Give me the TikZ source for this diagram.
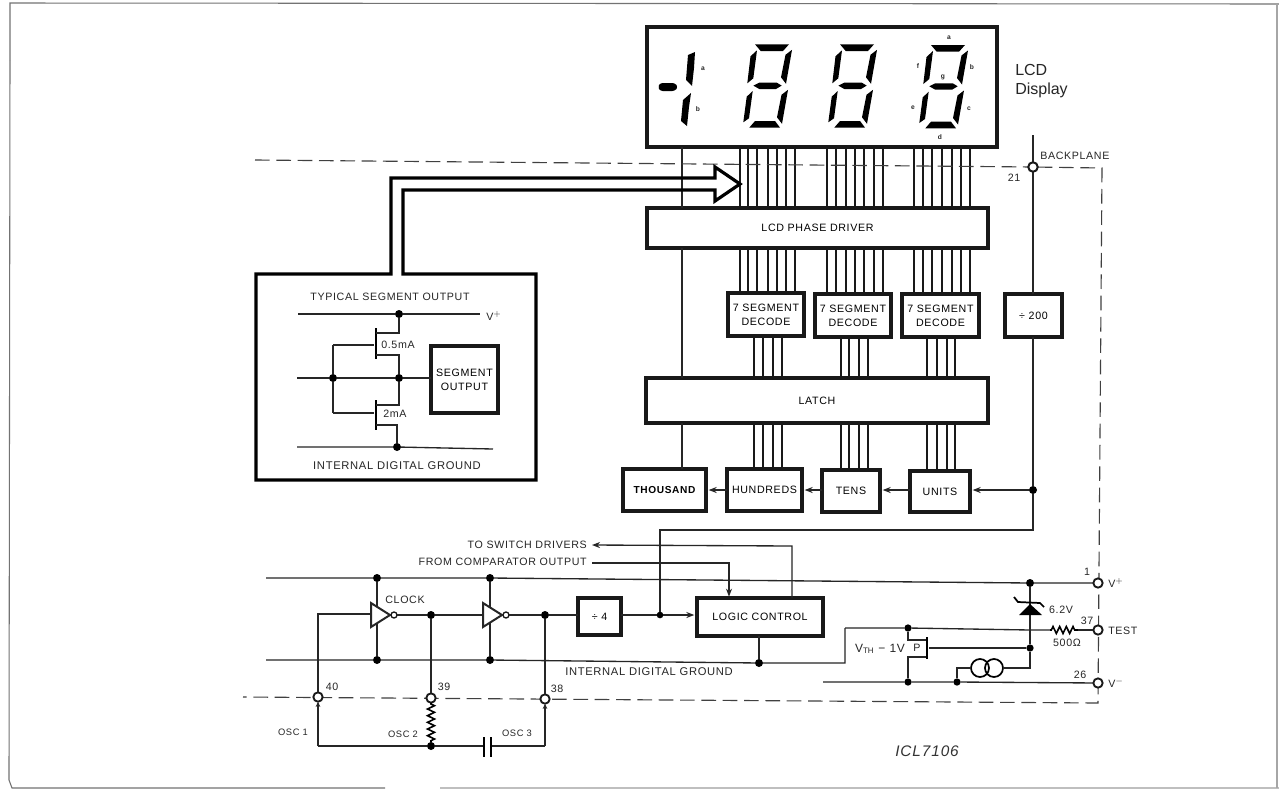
\documentclass[tikz,border=0pt]{standalone}
\usepackage{fontspec}
\setmainfont[LetterSpace=6]{Liberation Sans}
\newfontfamily\plainf{Liberation Sans}
\usetikzlibrary{arrows.meta,decorations.pathmorphing,calc}
\tikzset{
  wire/.style={line width=1pt,black!85},
  heavy/.style={line width=2.4pt,black!90},
  bus/.style={line width=1.05pt,black!90},
  dash line/.style={line width=0.85pt,black!75,dash pattern=on 11pt off 5pt},
  boxs/.style={draw=black!90,line width=2.3pt,fill=white,inner sep=0pt,outer sep=0pt,align=center,font=\fontsize{8}{10.5}\selectfont},
  lbl/.style={inner sep=0pt,font=\fontsize{8}{9}\selectfont,text=black!85},
  tiny/.style={inner sep=0pt,font=\bfseries\fontsize{5}{5}\selectfont,text=black!85},
  dot/.style={circle,fill=black,draw=none,minimum size=6pt,inner sep=0pt,outer sep=0pt},
  pin/.style={circle,fill=white,draw=black!90,line width=1.4pt,minimum size=7pt,inner sep=0pt,outer sep=0pt},
  tip/.style={-{Stealth[length=6pt,width=4.5pt]},shorten >=2pt},
  seg/.style={fill=black,draw=none},
  rzig/.style={decorate,decoration={zigzag,amplitude=2.6pt,segment length=5pt,pre length=1pt,post length=1pt},line width=1.2pt},
  scanline/.style={line width=0.8pt,black!55},
}
\newcommand{\bx}[6]{\node[boxs,minimum width={(#4-#2)*0.75pt},minimum height={(#5-#3)*0.75pt}] (#1) at ({(#2+#4)/2},{(#3+#5)/2}) {#6};}
\newcommand{\dg}[2]{\begin{scope}[shift={(#1,#2)}]
 \fill[seg] (0,0)--(34,0)--(28,6.7)--(5.7,6.7)--cycle;
 \fill[seg] (2,6)--(-4.5,12)--(-7.7,39)--(-1.7,34)--cycle;
 \fill[seg] (37,5.5)--(30.5,10.5)--(26,33)--(31,39.5)--cycle;
 \fill[seg] (-2.3,46.7)--(-8.3,52.4)--(-11.7,78)--(-6,74)--cycle;
 \fill[seg] (33,45.5)--(26.5,50.5)--(22,73)--(27,79.5)--cycle;
 \fill[seg] (-1.7,41.3)--(4.3,38.3)--(21.7,38.3)--(26.7,41.3)--(21,44.7)--(4.3,44.7)--cycle;
 \fill[seg] (0,76.7)--(20,76.7)--(25,83.3)--(-5.7,83.3)--cycle;
\end{scope}}
\begin{document}
\begin{tikzpicture}[x=0.75pt,y=-0.75pt]
\useasboundingbox (0,0) rectangle (1279,790);
\fill[white] (0,0) rectangle (1279,790);
% scanned page frame
\draw[scanline] (10,60) -- (10,3) -- (1279,4);
\draw[scanline] (10,60) -- (9,780) -- (12,788) -- (385,788);
\draw[scanline,black!25] (440,788) -- (1279,788);
\draw[scanline,black!35] (1277,4) -- (1277,788);
% main blocks
\bx{disp}{647}{27}{997}{147}{}
\bx{drv}{647}{208}{988}{248}{LCD PHASE DRIVER}
\bx{dA}{728}{293}{804}{336}{7 SEGMENT\\DECODE}
\bx{dB}{815}{294}{891}{337}{7 SEGMENT\\DECODE}
\bx{dC}{902}{294}{979}{337}{7 SEGMENT\\DECODE}
\bx{d200}{1005}{294}{1062}{337}{÷ 200}
\bx{latch}{646}{378}{988}{423}{LATCH}
\bx{thou}{623}{469}{706}{511}{\bfseries\fontsize{7.6}{9}\selectfont THOUSAND}
\bx{hund}{727}{469}{802}{511}{HUNDREDS}
\bx{tens}{822}{470}{880}{512}{TENS}
\bx{units}{910}{471}{970}{512}{UNITS}
\bx{div4}{578}{598}{621}{635}{÷ 4}
\bx{logic}{697}{598}{823}{636}{LOGIC CONTROL}
% digits
\dg{755}{44.3}\dg{840}{44.3}\dg{931}{45}
\fill[seg] (695,52)--(688,55)--(686,80)--(692,86)--(694,68)--cycle;
\fill[seg] (691,93)--(683,100)--(681,121)--(687,126)--(689,107)--cycle;
\fill[seg,rounded corners=2pt] (660,83)--(675,83)--(678,87)--(675,91)--(660,91)--(658,87)--cycle;
\node[tiny] at (703,69) {a};
\node[tiny] at (698,109) {b};
\node[tiny] at (949,38) {a};
\node[tiny] at (972,67) {b};
\node[tiny] at (969,109) {c};
\node[tiny] at (940,137) {d};
\node[tiny] at (913,108) {e};
\node[tiny] at (918,66) {f};
\node[tiny] at (943,77) {g};
\node[inner sep=0pt,anchor=west,align=left,font=\plainf\fontsize{12}{14}\selectfont,text=black!85] (lcdtxt) at (1015,81) {LCD\\Display};
% segment buses
\foreach \x in {740,748,757,768,777,786,795,827,836,846,855,864,874,883,914,923,932,942,952,961,970}
  \draw[bus] (\x,0 |- disp.south) -- (\x,0 |- drv.north);
\foreach \x in {740,748,757,768,777,786,795}
  \draw[bus] (\x,0 |- drv.south) -- (\x,0 |- dA.north);
\foreach \x in {827,836,846,855,864,874,883}
  \draw[bus] (\x,0 |- drv.south) -- (\x,0 |- dB.north);
\foreach \x in {914,923,932,942,952,961,970}
  \draw[bus] (\x,0 |- drv.south) -- (\x,0 |- dC.north);
\foreach \x in {754,763,773,782}{
  \draw[bus] (\x,0 |- dA.south) -- (\x,0 |- latch.north);
  \draw[bus] (\x,0 |- latch.south) -- (\x,0 |- hund.north);}
\foreach \x in {841,849,859,868}{
  \draw[bus] (\x,0 |- dB.south) -- (\x,0 |- latch.north);
  \draw[bus] (\x,0 |- latch.south) -- (\x,0 |- tens.north);}
\foreach \x in {927,937,947,955}{
  \draw[bus] (\x,0 |- dC.south) -- (\x,0 |- latch.north);
  \draw[bus] (\x,0 |- latch.south) -- (\x,0 |- units.north);}
\draw[wire] (682,0 |- disp.south) -- (682,0 |- drv.north);
\draw[wire] (682,0 |- drv.south) -- (682,0 |- latch.north);
\draw[wire] (682,0 |- latch.south) -- (682,0 |- thou.north);
% counter chain
\node[dot] (jU) at (1033,490) {};
\draw[wire,tip] (jU) -- (units.east |- jU);
\draw[wire,tip] (units.west |- jU) -- (tens.east |- jU);
\draw[wire,tip] (tens.west |- jU) -- (hund.east |- jU);
\draw[wire,tip] (hund.west |- jU) -- (thou.east |- jU);
% backplane
\coordinate (bpTop) at (1033,135);
\node[pin] (p21) at (1033,167) {};
\coordinate (clkTurn) at (1033,530);
\coordinate (clkTurnL) at (660,530);
\node[dot,minimum size=5pt] (j4) at (660,615) {};
\draw[wire] (bpTop) -- (p21);
\draw[wire] (p21) -- (d200.north -| p21);
\draw[wire] (d200.south -| p21) -- (jU) -- (clkTurn) -- (clkTurnL) -- (j4);
% dashed boundary
\coordinate (dTL) at (255,160);
\coordinate (dTR) at (1102,168);
\coordinate (dBR) at (1098,703);
\coordinate (dBL) at (243,697);
\draw[dash line] (dTL) -- (p21);
\draw[dash line] (p21) -- (dTR) -- (dBR) -- (dBL);
\node[pin] at (p21) {};
% thick hollow bus and output box
\coordinate (aTipU) at (715,178); \coordinate (aTipL) at (715,190);
\draw[heavy,line join=miter,black] (aTipU) -- (391,178) -- (391,274) -- (256,274) -- (256,480) -- (536,480) -- (536,274) -- (403,274) -- (403,190) -- (aTipL) -- (715,201) -- (740,184) -- (715,167) -- cycle;
\node[lbl] at (390,297) {TYPICAL SEGMENT OUTPUT};
\node[lbl,font=\fontsize{8.4}{9}\selectfont] at (397,466) {INTERNAL DIGITAL GROUND};
\bx{sego}{431}{346}{498}{413}{SEGMENT\\OUTPUT}
\coordinate (vL) at (298,314); \coordinate (vR) at (480,314);
\coordinate (gL) at (297,447); \coordinate (gR) at (493,449);
\node[dot] (jV) at (399,314) {};
\node[dot] (jG) at (397,447) {};
\node[dot] (jO) at (399,378) {};
\node[dot] (jI) at (333,378) {};
\coordinate (inL) at (297,378);
\draw[wire] (vL) -- (jV) -- (vR);
\draw[wire] (gL) -- (jG) -- (gR);
\draw[wire] (inL) -- (jI) -- (jO) -- (sego.west |- jO);
\draw[wire] (333,345) -- (jI) -- (333,413);
\draw[wire] (333,345) -- (374,345);
\draw[wire] (333,413) -- (374,413);
\draw[line width=1.5pt] (376,328) -- (376,359);
\draw[line width=1.5pt] (376,400) -- (376,430);
\draw[wire] (376,333) -| (jV);
\draw[wire] (376,355) -| (jO);
\draw[wire] (376,405) -| (jO);
\draw[wire] (376,425) -| (jG);
\node[lbl,anchor=west] at (381,345) {0.5mA};
\node[lbl,anchor=west] at (383,414) {2mA};
\node[lbl,anchor=west] at (486,316) {V$^{+}$};
% supply rails
\coordinate (rail1L) at (266,578);
\node[pin] (pVp) at (1098,583) {};
\node[dot] (r1a) at (377,578) {};
\node[dot] (r1b) at (490,578) {};
\node[dot] (jZ) at (1030,583) {};
\coordinate (rail2L) at (266,660);
\node[dot] (r2a) at (377,660) {};
\node[dot] (r2b) at (490,660) {};
\node[dot] (r2c) at (759,663) {};
\coordinate (r2t) at (845,663);
\coordinate (r2u) at (845,628);
\draw[wire] (rail1L) -- (r1a) -- (r1b) -- (jZ) -- (pVp);
\draw[wire] (rail2L) -- (r2a) -- (r2b) -- (r2c) -- (r2t) -- (r2u);
\draw[wire] (r1a) -- (r2a);
\draw[wire] (r1b) -- (r2b);
% inverters
\draw[wire,fill=white,line width=1.5pt] (371,603) -- (390,615) -- (371,627) -- cycle;
\draw[wire,fill=white,line width=1.5pt] (483,603) -- (502,615) -- (483,627) -- cycle;
\node[pin,minimum size=4.5pt,line width=1pt] (bub1) at (394,615) {};
\node[pin,minimum size=4.5pt,line width=1pt] (bub2) at (506,615) {};
\node[dot] (j39) at (431,615) {};
\node[dot] (j38) at (545,615) {};
\node[pin] (p40) at (318,697) {};
\node[pin] (p39) at (431,698) {};
\node[pin] (p38) at (545,699) {};
\coordinate (i1) at (371,614);
\coordinate (i2) at (483,615);
\draw[wire] (p40) -- (318,614) -- (i1);
\draw[wire] (bub1) -- (j39) -- (i2);
\draw[wire] (j39) -- (p39);
\draw[wire] (bub2) -- (j38) -- (div4.west |- j38);
\draw[wire] (j38) -- (p38);
\draw[wire] (div4.east |- j4) -- (j4);
\draw[wire,tip] (j4) -- (logic.west |- j4);
% oscillator network
\node[dot] (jR) at (431,746) {};
\coordinate (c40) at (318,746);
\coordinate (c38) at (545,746);
\coordinate (capL) at (484,746);
\coordinate (capR) at (491,746);
\draw[wire,-{Stealth[length=4pt,width=3.5pt]}] (c40) -- (p40);
\draw[wire,-{Stealth[length=4pt,width=3.5pt]}] (c38) -- (p38);
\draw[wire] (c40) -- (jR) -- (capL);
\draw[wire] (capR) -- (c38);
\draw[rzig] (p39) -- (jR);
\draw[line width=1.4pt] (484,737) -- (484,757);
\draw[line width=1.4pt] (491,737) -- (491,757);
% logic control wiring
\coordinate (swEnd) at (592,545);
\coordinate (cmpEnd) at (592,563);
\coordinate (lcT) at (792,598);
\coordinate (lcC) at (729,598);
\draw[wire,tip,shorten >=0pt] (lcT) -- (792,546) -- (swEnd);
\draw[wire,tip,shorten >=1pt] (cmpEnd) -- (729,563) -- (lcC);
\draw[wire] (logic.south -| r2c) -- (r2c);
% right part
\node[dot,minimum size=5.5pt] (jP) at (908,628) {};
\node[dot,minimum size=5.5pt] (jGt) at (1030,648) {};
\node[dot,minimum size=5.5pt] (jM) at (908,682) {};
\node[dot,minimum size=5.5pt] (jS) at (957,682) {};
\node[pin] (pT) at (1098,630) {};
\node[pin] (pVm) at (1098,683) {};
\coordinate (rA) at (1050,630); \coordinate (rB) at (1078,630);
\coordinate (jT) at (1030,630);
\coordinate (vmL) at (823,682);
\draw[wire] (r2u) -- (jP) -- (jT) -- (rA);
\draw[rzig] (rA) -- (rB);
\draw[wire] (rB) -- (pT);
\draw[wire] (vmL) -- (jM) -- (jS) -- (pVm);
\draw[wire] (jZ) -- (jGt);
\draw[wire] (jP) -- (908,640) -- (927,640);
\draw[wire] (jM) -- (908,657) -- (927,657);
\draw[line width=1.5pt] (927,637) -- (927,659);
\draw[wire] (929,648) -- (jGt);
\fill[black] (1019,615) -- (1042,615) -- (1030,604) -- cycle;
\draw[line width=1.3pt] (1014,597) -- (1018,602) -- (1040,603) -- (1044,607);
\node[circle,draw=black,line width=1.3pt,minimum size=13.5pt,inner sep=0pt,outer sep=0pt] (cs1) at (980,668) {};
\node[circle,draw=black,line width=1.3pt,minimum size=13.5pt,inner sep=0pt,outer sep=0pt] (cs2) at (994,668) {};
\draw[wire] (jS) |- (cs1.west);
\draw[wire] (cs2.east) -| (jGt);
% texts
\node[lbl,anchor=east] at (587,545) {TO SWITCH DRIVERS};
\node[lbl,anchor=east] at (587,562) {FROM COMPARATOR OUTPUT};
\node[lbl,anchor=west,font=\fontsize{8.4}{9}\selectfont] at (565,672) {INTERNAL DIGITAL GROUND};
\node[lbl] at (405,600) {CLOCK};
\node[lbl] at (332,687) {40};
\node[lbl] at (444,687) {39};
\node[lbl] at (557,689) {38};
\node[lbl,font=\fontsize{7}{8}\selectfont] at (293,732) {OSC 1};
\node[lbl,font=\fontsize{7}{8}\selectfont] at (403,734) {OSC 2};
\node[lbl,font=\fontsize{7}{8}\selectfont] at (517,733) {OSC 3};
\node[lbl] at (1061,610) {6.2V};
\node[lbl] at (1067,643) {500Ω};
\node[lbl,font=\fontsize{9}{10}\selectfont] at (880,649) {V$_{\mathrm{TH}}$ − 1V};
\node[lbl] at (917,648) {P};
\node[lbl] at (1087,572) {1};
\node[lbl] at (1087,621) {37};
\node[lbl] at (1080,675) {26};
\node[lbl,anchor=west] at (1108,583) {V$^{+}$};
\node[lbl,anchor=west] at (1108,631) {TEST};
\node[lbl,anchor=west] at (1108,683) {V$^{-}$};
\node[lbl,anchor=west] at (1040,156) {BACKPLANE};
\node[lbl] at (1014,178) {21};
\node[inner sep=0pt,font=\itshape\fontsize{11.5}{13}\selectfont,text=black!80] at (927,751) {ICL7106};
\end{tikzpicture}
\end{document}
